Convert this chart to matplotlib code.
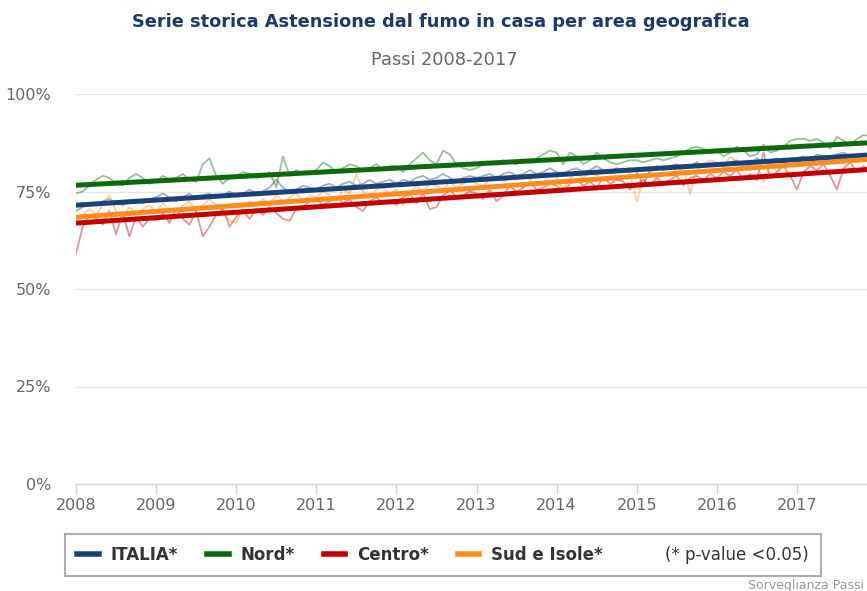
import numpy as np
import matplotlib
matplotlib.use('Agg')
import matplotlib.pyplot as plt
from matplotlib.lines import Line2D

# Data (monthly values 2008-2017)
years = list(range(2008, 2018))

italia = [70.0, 71.0, 72.0, 71.5, 72.5, 73.0, 72.0, 71.5, 72.5, 73.0, 72.0, 73.0,
          73.5, 74.5, 73.5, 72.5, 73.5, 74.5, 73.0, 74.0, 74.5, 73.5, 74.0, 75.0,
          74.0, 74.5, 75.5, 74.5, 75.0, 76.0, 78.0, 76.0, 75.0, 75.5, 76.5, 76.0,
          75.5, 76.5, 77.0, 76.0, 77.0, 77.5, 76.5, 77.0, 78.0, 77.0, 77.5, 78.0,
          77.0, 78.0, 77.5, 78.5, 79.0, 78.0, 78.5, 79.5, 78.5, 77.5, 78.5, 79.0,
          78.5, 79.0, 79.5, 78.5, 79.5, 80.0, 79.0, 79.5, 80.5, 79.5, 80.0, 81.0,
          80.0, 79.5, 80.5, 81.0, 80.0, 80.5, 81.5, 80.5, 80.0, 81.0, 80.5, 81.0,
          80.0, 76.5, 80.5, 81.5, 80.5, 81.5, 82.0, 81.0, 81.5, 82.5, 81.5, 82.0,
          82.0, 81.5, 82.5, 83.0, 82.0, 81.5, 83.5, 82.5, 83.0, 83.5, 82.5, 83.0,
          83.5, 84.0, 83.0, 84.5, 84.0, 83.5, 84.5, 85.0, 84.0, 83.5, 84.5, 85.0]

nord = [74.5, 75.0, 76.5, 78.0, 79.0, 78.5, 77.0, 76.5, 78.5, 79.5, 78.5, 77.0,
        77.5, 79.0, 78.0, 78.5, 79.5, 78.0, 77.5, 82.0, 83.5, 79.0, 77.0, 78.5,
        79.0, 80.0, 79.5, 78.5, 79.0, 80.0, 76.0, 84.0, 79.0, 80.5, 79.5, 80.0,
        80.5, 82.5, 81.5, 80.0, 81.0, 82.0, 81.5, 80.5, 81.0, 82.0, 80.5, 81.5,
        81.5, 80.0, 82.0, 83.5, 85.0, 83.0, 82.0, 85.5, 84.5, 82.0, 81.0, 80.5,
        81.0, 82.0, 82.5, 82.0, 83.0, 82.5, 82.0, 83.0, 82.5, 83.5, 84.5, 85.5,
        85.0, 82.0, 85.0, 84.0, 82.0, 83.0, 85.0, 83.5, 82.5, 82.0, 82.5, 83.0,
        83.0, 82.5, 83.0, 83.5, 83.0, 83.5, 84.0, 85.0, 86.0, 86.5, 86.0, 85.0,
        85.5, 84.0, 85.0, 86.5, 85.5, 84.0, 84.5, 87.0, 85.0, 85.5, 86.5, 88.0,
        88.5, 88.5, 88.0, 88.5, 87.5, 86.0, 89.0, 88.0, 87.0, 88.5, 89.5, 89.0]

centro = [59.0, 66.0, 69.0, 68.0, 66.5, 70.0, 64.0, 69.5, 63.5, 68.5, 66.0, 68.0,
          67.5, 69.5, 67.0, 70.5, 68.0, 66.5, 70.0, 63.5, 66.0, 69.0, 70.5, 66.0,
          68.5, 70.0, 68.0, 70.5, 69.0, 71.0, 69.5, 68.0, 67.5, 70.5, 71.0, 72.5,
          73.0, 71.5, 72.5, 73.5, 72.0, 73.0, 71.0, 70.0, 72.5, 73.5, 72.0, 72.5,
          71.5, 73.5, 74.5, 72.0, 74.5, 70.5, 71.0, 74.0, 75.5, 73.5, 74.0, 75.0,
          74.5, 73.0, 75.5, 72.5, 74.0, 76.5, 75.0, 76.0, 77.5, 75.5, 76.0, 77.0,
          76.5, 75.0, 77.0, 78.0, 76.5, 77.5, 76.0, 78.5, 77.0, 78.0, 77.5, 75.5,
          77.0, 78.0, 76.5, 78.5, 77.0, 78.0, 79.0, 76.5, 78.5, 79.0, 78.0, 79.5,
          78.5, 80.0, 79.0, 80.5, 78.0, 79.5, 78.0, 85.0, 78.5, 80.0, 81.5, 79.0,
          75.5, 80.0, 81.5, 80.5, 82.0, 79.0, 75.5, 81.0, 82.5, 80.0, 81.5, 80.0]

sud = [68.0, 69.0, 70.5, 69.0, 71.5, 74.0, 70.0, 68.5, 71.0, 69.5, 70.5, 71.5,
       70.0, 72.0, 70.5, 69.0, 71.5, 72.5, 70.0, 71.5, 73.0, 71.5, 70.0, 67.5,
       67.0, 71.0, 72.5, 71.5, 73.0, 72.0, 74.0, 72.5, 73.5, 74.5, 72.5, 74.0,
       73.5, 75.0, 74.0, 72.5, 75.5, 74.5, 79.5, 75.0, 73.5, 75.5, 76.0, 74.5,
       75.5, 71.5, 74.5, 76.5, 75.0, 77.0, 76.5, 75.5, 77.5, 76.0, 77.0, 78.0,
       77.0, 76.5, 78.0, 79.0, 77.5, 78.5, 78.0, 79.5, 78.0, 79.0, 80.0, 79.5,
       78.5, 75.5, 78.5, 79.5, 78.5, 80.0, 79.0, 80.5, 79.5, 80.0, 81.0, 79.5,
       72.5, 78.0, 80.0, 81.0, 80.5, 81.5, 80.0, 81.0, 74.5, 80.5, 82.0, 83.0,
       82.5, 81.0, 84.0, 82.5, 81.5, 83.0, 82.0, 77.5, 82.5, 80.0, 82.5, 83.5,
       82.0, 83.5, 82.5, 83.0, 84.0, 82.5, 84.5, 83.0, 84.0, 83.5, 84.5, 84.0]

# linear trend, values at start of 2008 and 2018
trend_x = [2008, 2018]
italia_trend = [71.5, 84.5]
nord_trend = [76.6, 87.6]
centro_trend = [66.9, 80.8]
sud_trend = [68.4, 83.4]

labels = ['ITALIA*', 'Nord*', 'Centro*', 'Sud e Isole*']
colors = ['#17427a', '#0b6a0b', '#c40000', '#ff8c1a']

months = np.array(years[0] + np.arange(len(italia)) / 12.0)

fig = plt.figure(figsize=(8.67, 5.91), dpi=100)
ax = fig.add_axes([76 / 867, 1 - 484 / 591, 1 - 76 / 867, (484 - 94) / 591])

series = [italia, nord, centro, sud]
trends = [italia_trend, nord_trend, centro_trend, sud_trend]
for vals, col in zip(series, colors):
    ax.plot(months, vals, color=col, lw=1.3, alpha=0.42, solid_joinstyle='round')
for tr, col in zip(trends, colors):
    ax.plot(trend_x, tr, color=col, lw=3.6, solid_capstyle='butt')

ax.set_xlim(2008, 2008 + (867 - 76) / 80.1)
ax.set_ylim(0, 100)
ax.set_xticks(years)
ax.set_xticklabels([str(y) for y in years])
ax.set_yticks([0, 25, 50, 75, 100])
ax.set_yticklabels(['0%', '25%', '50%', '75%', '100%'])
ax.yaxis.grid(True, color='#e6e6e6', lw=1)
ax.set_axisbelow(True)
for s in ['top', 'right', 'left']:
    ax.spines[s].set_visible(False)
ax.spines['bottom'].set_color('#ccd6eb')
ax.spines['bottom'].set_linewidth(1)
ax.tick_params(axis='x', colors='#ccd6eb', length=7, width=1, pad=3,
               labelcolor='#666666', labelsize=11.5)
ax.tick_params(axis='y', length=0, pad=18, labelcolor='#666666', labelsize=11.5)

fig.text(0.508, 1 - 22 / 591, 'Serie storica Astensione dal fumo in casa per area geografica',
         ha='center', va='center', fontsize=12.8, fontweight='bold', color='#1a3a6a')
fig.text(0.512, 1 - 60 / 591, 'Passi 2008-2017', ha='center', va='center',
         fontsize=12.8, color='#666666')

handles = [Line2D([], [], color=c, lw=4) for c in colors]
handles.append(Line2D([], [], color='none'))
leg = fig.legend(handles, labels + ['(* p-value <0.05)'], ncol=5,
                 loc='center', bbox_to_anchor=(443 / 867, 1 - 555 / 591),
                 frameon=True, fancybox=False, edgecolor='#999999',
                 prop={'size': 12, 'weight': 'bold'},
                 handlelength=1.3, handletextpad=0.7, columnspacing=1.75,
                 borderpad=0.7)
leg.get_frame().set_linewidth(1.5)
for t in leg.get_texts():
    t.set_color('#333333')
leg.get_texts()[-1].set_fontweight('normal')

fig.text(864 / 867, 1 - 585 / 591, 'Sorveglianza Passi', ha='right', va='center',
         fontsize=9, color='#999999')

fig.savefig('out.png', dpi=100)
